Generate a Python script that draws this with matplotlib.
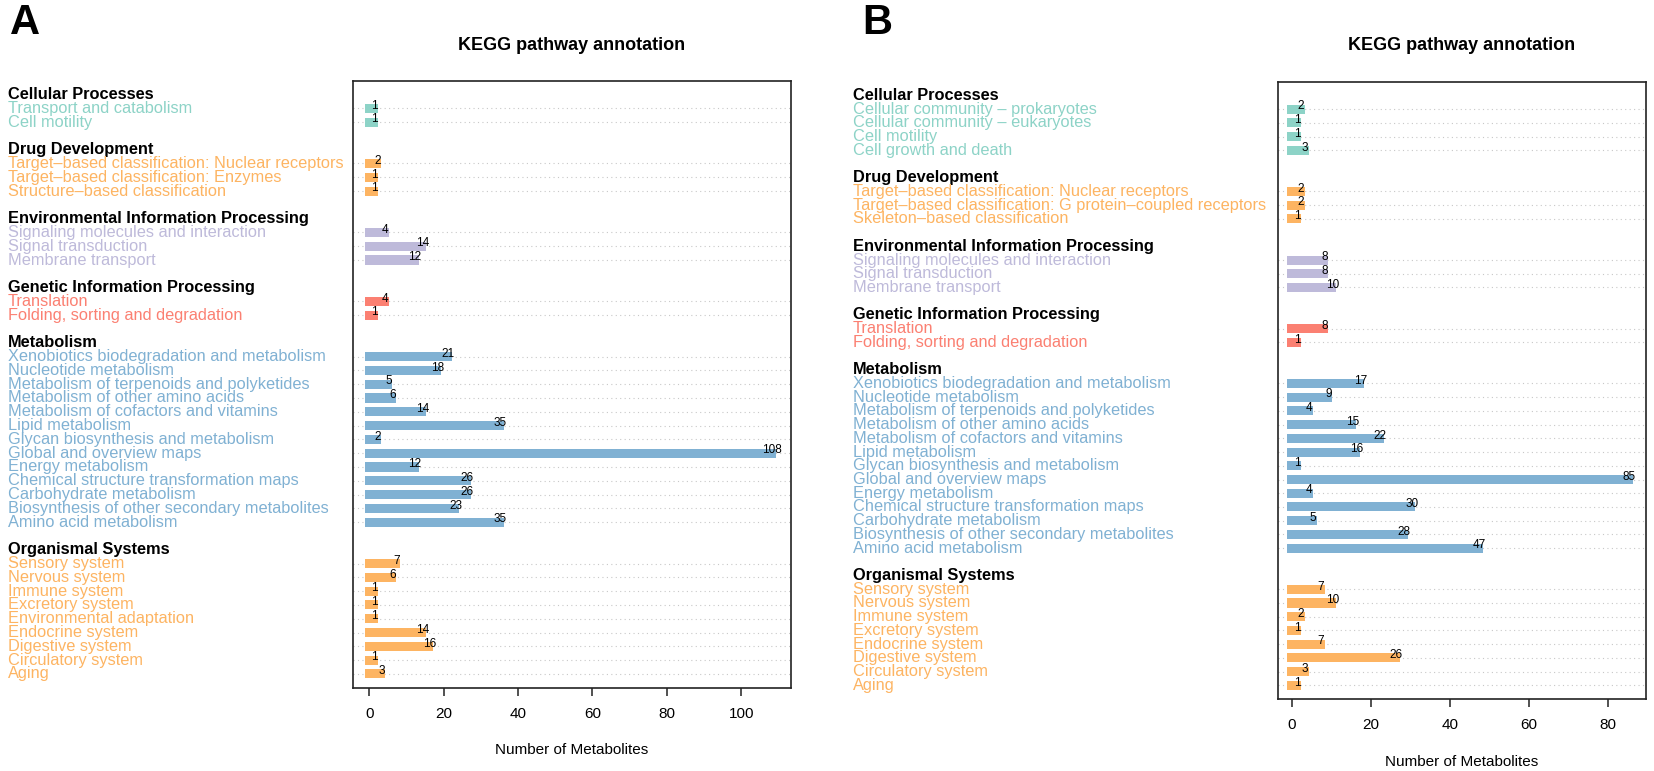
import matplotlib
matplotlib.use("Agg")
import matplotlib.pyplot as plt
from matplotlib import transforms

plt.rcParams['font.family'] = ['Liberation Sans', 'DejaVu Sans']

# KEGG level-1 groups (same for both panels)
groups = ['Cellular Processes', 'Drug Development', 'Environmental Information Processing',
          'Genetic Information Processing', 'Metabolism', 'Organismal Systems']
group_colors = ['#8DD3C7', '#FDB462', '#BEBADA', '#FB8072', '#80B1D3', '#FDB462']

# Panel A
a_labels = [
    ['Transport and catabolism', 'Cell motility'],
    ['Target–based classification: Nuclear receptors', 'Target–based classification: Enzymes',
     'Structure–based classification'],
    ['Signaling molecules and interaction', 'Signal transduction', 'Membrane transport'],
    ['Translation', 'Folding, sorting and degradation'],
    ['Xenobiotics biodegradation and metabolism', 'Nucleotide metabolism',
     'Metabolism of terpenoids and polyketides', 'Metabolism of other amino acids',
     'Metabolism of cofactors and vitamins', 'Lipid metabolism',
     'Glycan biosynthesis and metabolism', 'Global and overview maps', 'Energy metabolism',
     'Chemical structure transformation maps', 'Carbohydrate metabolism',
     'Biosynthesis of other secondary metabolites', 'Amino acid metabolism'],
    ['Sensory system', 'Nervous system', 'Immune system', 'Excretory system',
     'Environmental adaptation', 'Endocrine system', 'Digestive system',
     'Circulatory system', 'Aging'],
]
a_values = [
    [1, 1],
    [2, 1, 1],
    [4, 14, 12],
    [4, 1],
    [21, 18, 5, 6, 14, 35, 2, 108, 12, 26, 26, 23, 35],
    [7, 6, 1, 1, 1, 14, 16, 1, 3],
]

# Panel B
b_labels = [
    ['Cellular community – prokaryotes', 'Cellular community – eukaryotes', 'Cell motility',
     'Cell growth and death'],
    ['Target–based classification: Nuclear receptors',
     'Target–based classification: G protein–coupled receptors',
     'Skeleton–based classification'],
    ['Signaling molecules and interaction', 'Signal transduction', 'Membrane transport'],
    ['Translation', 'Folding, sorting and degradation'],
    ['Xenobiotics biodegradation and metabolism', 'Nucleotide metabolism',
     'Metabolism of terpenoids and polyketides', 'Metabolism of other amino acids',
     'Metabolism of cofactors and vitamins', 'Lipid metabolism',
     'Glycan biosynthesis and metabolism', 'Global and overview maps', 'Energy metabolism',
     'Chemical structure transformation maps', 'Carbohydrate metabolism',
     'Biosynthesis of other secondary metabolites', 'Amino acid metabolism'],
    ['Sensory system', 'Nervous system', 'Immune system', 'Excretory system',
     'Endocrine system', 'Digestive system', 'Circulatory system', 'Aging'],
]
b_values = [
    [2, 1, 1, 3],
    [2, 2, 1],
    [8, 8, 10],
    [8, 1],
    [17, 9, 4, 15, 22, 16, 1, 85, 4, 30, 5, 28, 47],
    [7, 10, 2, 1, 7, 26, 3, 1],
]

W, H = 1654, 771
fig = plt.figure(figsize=(W / 100, H / 100), dpi=100)


def draw_panel(rect, labels, values, label_x, letter, letter_x):
    ax = fig.add_axes(rect)
    trans = transforms.blended_transform_factory(fig.transFigure, ax.transData)
    fs = 11.8
    line = 0
    ys, vs, cs = [], [], []
    for g, name in enumerate(groups):
        ax.text(label_x, line, name, transform=trans, fontsize=fs, fontweight='bold',
                va='center', ha='left', color='black')
        line += 1
        for lab, v in zip(labels[g], values[g]):
            ax.text(label_x, line, lab, transform=trans, fontsize=fs,
                    va='center', ha='left', color=group_colors[g])
            ys.append(line)
            vs.append(v)
            cs.append(group_colors[g])
            line += 1
        line += 1
    last = line - 2

    vmax = max(vs) + 1
    pad = 0.04 * vmax
    ax.set_xlim(-pad, vmax + pad)
    ax.set_ylim(last + 1, -1)

    ax.hlines(ys, -pad, vmax + pad, colors='#c8c8c8', linestyles=(0, (1, 3)),
              linewidth=0.8, zorder=1)
    ax.barh(ys, [v + 2.45 for v in vs], left=-1.2, height=0.66, color=cs, zorder=2)
    for y, v in zip(ys, vs):
        ax.text(v + 0.3, y - 0.2, str(v), fontsize=8.5, ha='center', va='center',
                color='black', zorder=3)

    ax.set_xticks(range(0, int(vmax) + 1, 20))
    ax.set_yticks([])
    ax.tick_params(axis='x', length=6, width=1.1, pad=8, labelsize=11, color='#222222')
    for s in ax.spines.values():
        s.set_linewidth(1.2)
        s.set_color('#222222')
    ax.set_xlabel('Number of Metabolites', fontsize=11, labelpad=16)

    x0, y0, w, h = rect
    fig.text(x0 + w / 2, 1 - 45 / H, 'KEGG pathway annotation', fontsize=13,
             fontweight='bold', ha='center', va='center')
    fig.text(letter_x, 1 - 23 / H, letter, fontsize=30, fontweight='bold',
             ha='left', va='center')
    return ax


draw_panel([353 / W, 1 - 687.7 / H, (791 - 353) / W, (687.7 - 80.7) / H],
           a_labels, a_values, 8 / W, 'A', 10 / W)
draw_panel([1278.3 / W, 1 - 699 / H, (1645.6 - 1278.3) / W, (699 - 81.7) / H],
           b_labels, b_values, 853 / W, 'B', 862 / W)

fig.savefig('out.png', dpi=100)
